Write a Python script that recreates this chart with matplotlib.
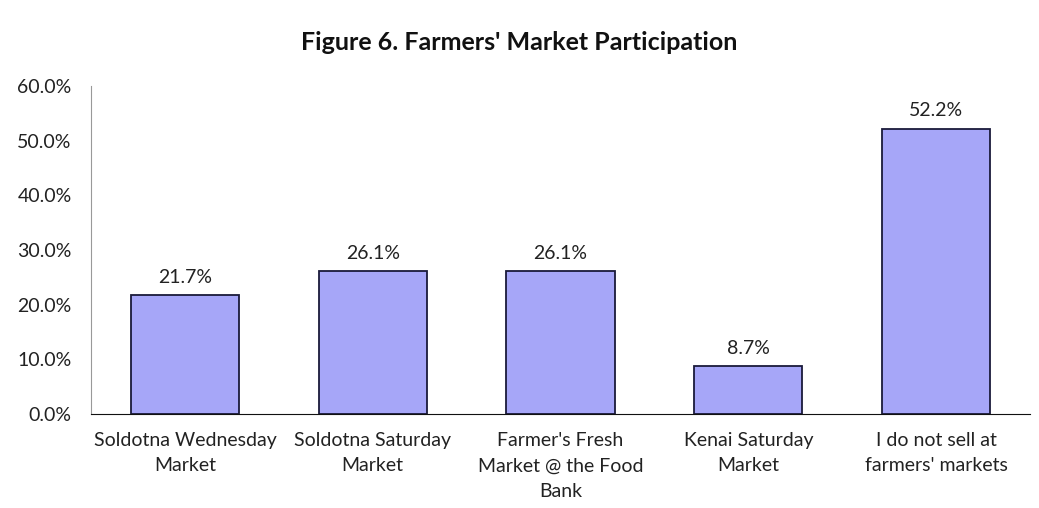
import matplotlib
matplotlib.use("Agg")
import matplotlib.pyplot as plt
from matplotlib.ticker import FuncFormatter

categories = [
    "Soldotna Wednesday\nMarket",
    "Soldotna Saturday\nMarket",
    "Farmer's Fresh\nMarket @ the Food\nBank",
    "Kenai Saturday\nMarket",
    "I do not sell at\nfarmers' markets",
]
values = [21.7, 26.1, 26.1, 8.7, 52.2]
y_ticks = [0, 10, 20, 30, 40, 50, 60]

plt.rcParams["font.family"] = ["Lato", "DejaVu Sans"]

fig = plt.figure(figsize=(10.39, 5.08), dpi=100)
ax = fig.add_axes([91 / 1039, 1 - 414 / 508, 939 / 1039, 328 / 508])

x = list(range(len(categories)))
ax.bar(x, values, width=0.576, color="#a6a6f8", edgecolor="#1a1a3a", linewidth=1.3, zorder=2)

for xi, v in zip(x, values):
    ax.annotate(f"{v:.1f}%", (xi, v), xytext=(0, 7), textcoords="offset points",
                ha="center", va="bottom", fontsize=14, color="#222222")

ax.set_xlim(-0.5, len(categories) - 0.5)
ax.set_ylim(0, 60)
ax.set_yticks(y_ticks)
ax.yaxis.set_major_formatter(FuncFormatter(lambda v, _: f"{v:.1f}%"))
ax.set_xticks(x)
ax.set_xticklabels(categories, fontsize=14, color="#222222", linespacing=1.6)
ax.tick_params(axis="both", length=0)
ax.tick_params(axis="y", labelsize=14, labelcolor="#222222", pad=14)
ax.tick_params(axis="x", pad=13)

for side in ("top", "right"):
    ax.spines[side].set_visible(False)
ax.spines["left"].set_color("#999999")
ax.spines["bottom"].set_color("#111111")

fig.text(0.5, 1 - 43 / 508, "Figure 6. Farmers' Market Participation",
         ha="center", va="center", fontsize=18, fontweight="bold", color="#111111")

fig.savefig("out.png", dpi=100, facecolor="white")
